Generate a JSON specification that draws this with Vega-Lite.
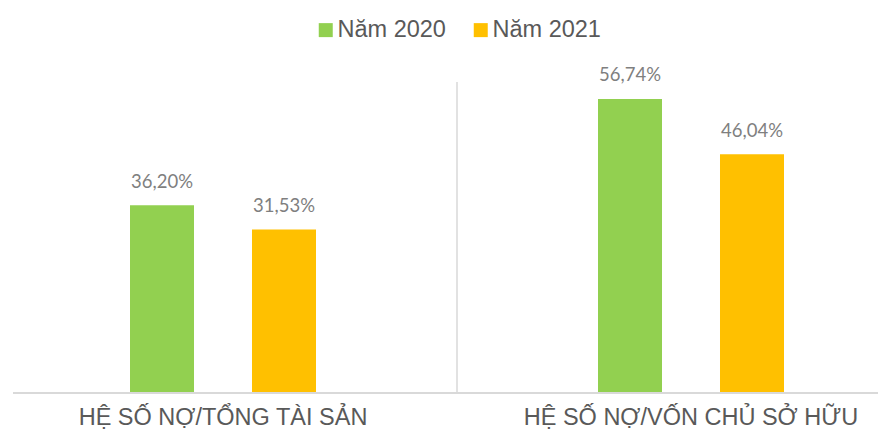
{
  "$schema": "https://vega.github.io/schema/vega-lite/v6.json",
  "autosize": {"type": "none"},
  "width": 865,
  "height": 311,
  "padding": {"left": 13, "top": 82, "right": 0, "bottom": 37},
  "background": "white",
  "config": {
    "view": {"stroke": null},
    "locale": {"number": {"decimal": ",", "thousands": ".", "grouping": [3], "currency": ["", " ₫"]}}
  },
  "datasets": {
    "bars": [
      {"cat": "HỆ SỐ NỢ/TỔNG TÀI SẢN", "series": "Năm 2020", "value": 0.3620},
      {"cat": "HỆ SỐ NỢ/TỔNG TÀI SẢN", "series": "Năm 2021", "value": 0.3153},
      {"cat": "HỆ SỐ NỢ/VỐN CHỦ SỞ HỮU", "series": "Năm 2020", "value": 0.5674},
      {"cat": "HỆ SỐ NỢ/VỐN CHỦ SỞ HỮU", "series": "Năm 2021", "value": 0.4604}
    ],
    "divider": [{"cat": "HỆ SỐ NỢ/VỐN CHỦ SỞ HỮU"}],
    "base": [{"v": 0}]
  },
  "layer": [
    {
      "data": {"name": "divider"},
      "mark": {"type": "rule", "color": "#d9d9d9", "strokeWidth": 1.5},
      "encoding": {
        "x": {"field": "cat", "type": "nominal", "bandPosition": 0}
      }
    },
    {
      "data": {"name": "bars"},
      "mark": {"type": "bar"},
      "encoding": {
        "x": {
          "field": "cat", "type": "nominal",
          "scale": {"domain": ["HỆ SỐ NỢ/TỔNG TÀI SẢN", "HỆ SỐ NỢ/VỐN CHỦ SỞ HỮU"], "range": [-24, 912], "paddingInner": 0, "paddingOuter": 0},
          "axis": {
            "title": null, "domain": false, "ticks": false, "grid": false, "labelAngle": 0,
            "labelAlign": "center", "bandPosition": 0.5,
            "labelFont": "Liberation Sans", "labelFontSize": 23.5, "labelColor": "#595959",
            "labelPadding": 24.5, "labelLimit": 1000, "labelOverlap": false
          }
        },
        "xOffset": {
          "field": "series", "type": "nominal",
          "scale": {"domain": ["Năm 2020", "Năm 2021"], "range": [141, 327], "paddingInner": 0.4754, "paddingOuter": 0}
        },
        "y": {
          "field": "value", "type": "quantitative",
          "scale": {"domain": [0, 0.6], "nice": false, "zero": true},
          "axis": null
        },
        "color": {
          "field": "series", "type": "nominal",
          "scale": {"domain": ["Năm 2020", "Năm 2021"], "range": ["#92D050", "#FFC000"]},
          "legend": {
            "title": null, "orient": "none", "direction": "horizontal",
            "legendX": 301, "legendY": -64, "padding": 0,
            "symbolType": "square", "symbolSize": 196, "symbolStrokeWidth": 0,
            "labelFont": "Liberation Sans", "labelFontSize": 23.5, "labelColor": "#595959",
            "labelOffset": 0, "columnPadding": 23, "labelLimit": 300
          }
        }
      }
    },
    {
      "data": {"name": "bars"},
      "mark": {"type": "text", "baseline": "alphabetic", "dy": -17.5, "font": "Lato", "fontSize": 18.5, "color": "#7F7F7F"},
      "encoding": {
        "x": {"field": "cat", "type": "nominal"},
        "xOffset": {"field": "series", "type": "nominal"},
        "y": {"field": "value", "type": "quantitative"},
        "text": {"field": "value", "type": "quantitative", "format": ".2%"}
      }
    },
    {
      "data": {"name": "base"},
      "mark": {"type": "rule", "color": "#d9d9d9", "strokeWidth": 2},
      "encoding": {
        "y": {"field": "v", "type": "quantitative"}
      }
    }
  ]
}
